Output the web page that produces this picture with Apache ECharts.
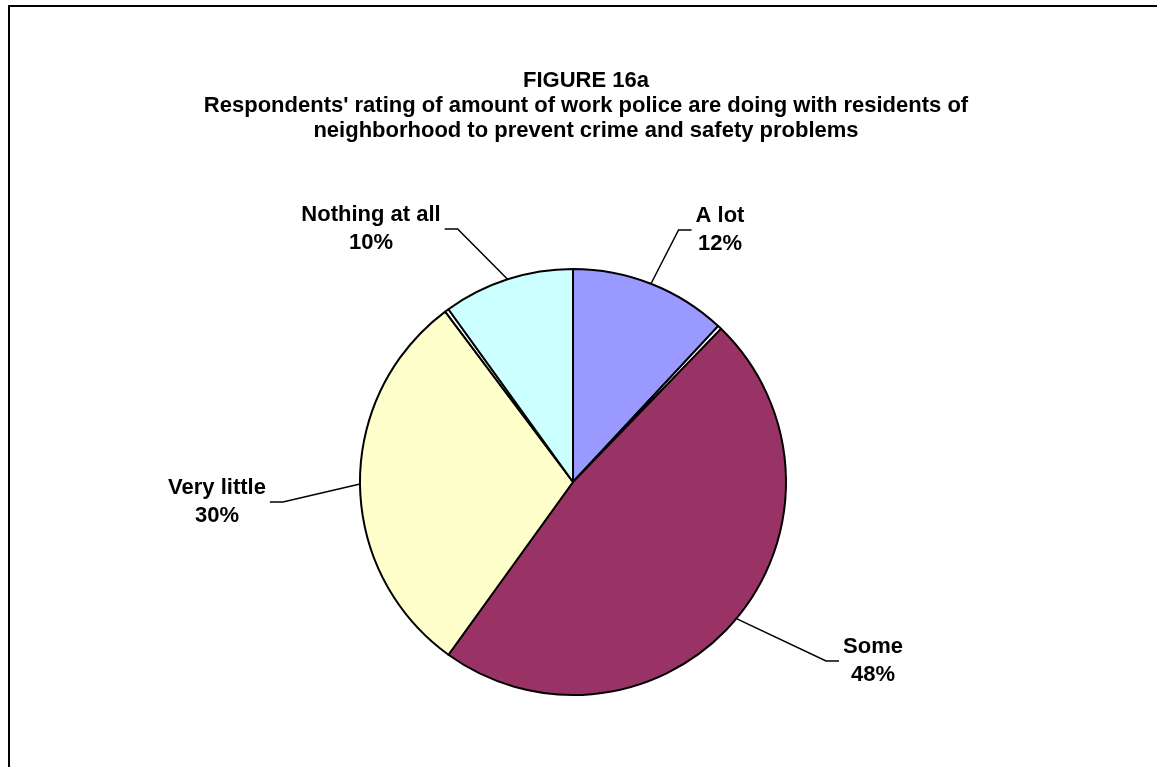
<!DOCTYPE html>
<html>
<head>
<meta charset="utf-8">
<script src="https://cdn.jsdelivr.net/npm/echarts@6/dist/echarts.min.js"></script>
<style>
  html, body { margin: 0; padding: 0; background: #ffffff; }
  #chart { width: 1157px; height: 767px; }
</style>
</head>
<body>
<div id="chart"></div>
<script>
// Survey answers, clockwise from 12 o'clock. The two unnamed entries are
// the tiny unlabeled slivers (no response) that sit between the main slices.
const categories = ['A lot', '', 'Some', 'Very little', '', 'Nothing at all'];
const percents   = [12, 0.3, 48, 30, 0.3, 10];
const colors     = ['#9999FF', '#FFFFFF', '#993366', '#FFFFCC', '#FFFFFF', '#CCFFFF'];

const titleLines = [
  'FIGURE 16a',
  "Respondents' rating of amount of work police are doing with residents of",
  'neighborhood to prevent crime and safety problems'
];

// Where each callout label sits (label centre), keyed by slice index.
const calloutAt = {
  0: [720, 230],
  2: [873, 661],
  3: [217, 502],
  5: [371, 229]
};

const FONT = 'Arial, "Liberation Sans", Helvetica, sans-serif';

const chart = echarts.init(document.getElementById('chart'), null, { renderer: 'canvas' });

const pieData = categories.map((name, i) => ({
  name: name,
  value: percents[i],
  itemStyle: { color: colors[i] },
  label: { show: name !== '' },
  labelLine: { show: name !== '' }
}));

chart.setOption({
  backgroundColor: '#ffffff',
  animation: false,
  title: {
    text: titleLines.join('\n'),
    left: 586,
    textAlign: 'center',
    top: 68,
    padding: 0,
    textStyle: {
      fontFamily: FONT,
      fontSize: 22,
      fontWeight: 'bold',
      color: '#000000',
      lineHeight: 25
    }
  },
  graphic: [{
    type: 'rect',
    silent: true,
    shape: { x: 9, y: 6, width: 1400, height: 1000 },
    style: { fill: 'none', stroke: '#000000', lineWidth: 2 }
  }],
  series: [{
    type: 'pie',
    center: [573, 482],
    radius: 213,
    startAngle: 90,
    clockwise: true,
    avoidLabelOverlap: false,
    itemStyle: { borderColor: '#000000', borderWidth: 2 },
    label: {
      position: 'outside',
      formatter: p => p.name + '\n' + p.value + '%',
      fontFamily: FONT,
      fontSize: 22,
      fontWeight: 'bold',
      color: '#000000',
      lineHeight: 28,
      align: 'center',
      padding: [0, 4]
    },
    labelLine: {
      show: true,
      length: 40,
      length2: 13,
      lineStyle: { color: '#000000', width: 1.5 }
    },
    labelLayout: params => {
      const pos = calloutAt[params.dataIndex];
      if (!pos) return {};
      return { x: pos[0], y: pos[1], align: 'center', verticalAlign: 'middle' };
    },
    emphasis: { disabled: true },
    data: pieData
  }]
});
</script>
</body>
</html>
